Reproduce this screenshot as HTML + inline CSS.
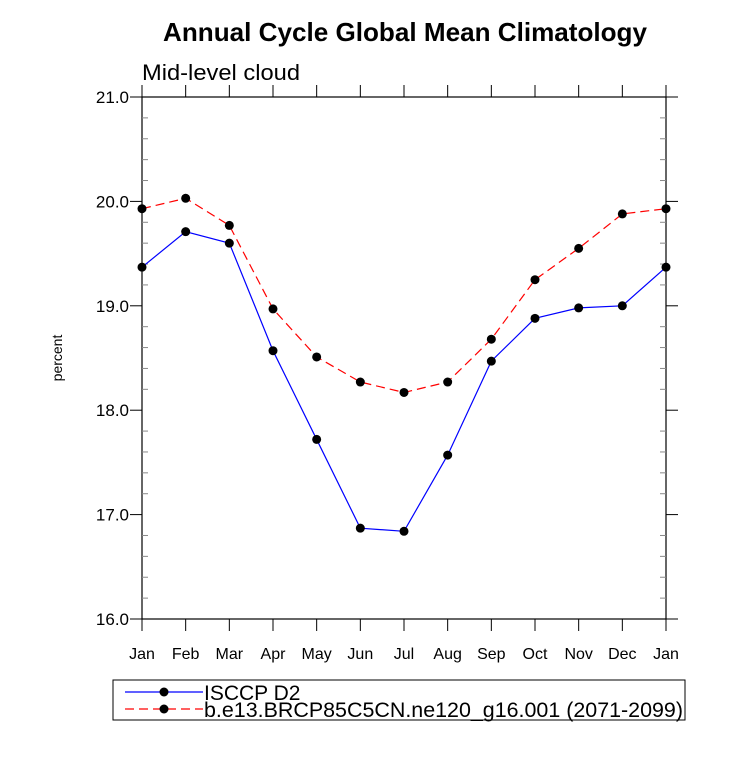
<!DOCTYPE html>
<html><head><meta charset="utf-8"><style>body{margin:0;background:#fff}svg{font-family:"Liberation Sans",sans-serif}</style></head>
<body>
<svg id="c" width="733" height="755">
<text x="405" y="41" text-anchor="middle" font-size="26" font-weight="bold" textLength="484" lengthAdjust="spacingAndGlyphs">Annual Cycle Global Mean Climatology</text>
<text x="142" y="80" font-size="22" textLength="158" lengthAdjust="spacingAndGlyphs">Mid-level cloud</text>
<text transform="translate(62,358) rotate(-90)" text-anchor="middle" font-size="14">percent</text>
<g id="axes"></g><g id="series"></g>
<rect x="113" y="680" width="572" height="40" fill="none" stroke="#000" stroke-width="1"/>
<g>
<line x1="125" y1="692" x2="203" y2="692" stroke="#00f" stroke-width="1.2"/><circle cx="164" cy="692" r="4.5"/>
<text x="204" y="700" font-size="21">ISCCP D2</text></g>
<g>
<line x1="125" y1="709" x2="203" y2="709" stroke="#f00" stroke-width="1.2" stroke-dasharray="9,5"/><circle cx="164" cy="709" r="4.5"/>
<text x="204" y="717" font-size="21" textLength="479" lengthAdjust="spacingAndGlyphs">b.e13.BRCP85C5CN.ne120_g16.001 (2071-2099)</text></g>
</svg>
<script>
const months=["Jan","Feb","Mar","Apr","May","Jun","Jul","Aug","Sep","Oct","Nov","Dec","Jan"];
const isccp=[19.37,19.71,19.60,18.57,17.72,16.87,16.84,17.57,18.47,18.88,18.98,19.00,19.37];
const model=[19.93,20.03,19.77,18.97,18.51,18.27,18.17,18.27,18.68,19.25,19.55,19.88,19.93];
const yTicks=[16,17,18,19,20,21];
const X0=142,X1=666,Y0=619,Y1=97,ymin=16,ymax=21;
const sx=i=>X0+(X1-X0)*i/(months.length-1);
const sy=v=>Y0-(Y0-Y1)*(v-ymin)/(ymax-ymin);
const NS="http://www.w3.org/2000/svg";
function mk(t,a,p){const e=document.createElementNS(NS,t);for(const k in a)e.setAttribute(k,a[k]);p.appendChild(e);return e;}
const ax=document.getElementById('axes');
const fr=mk('rect',{x:X0,y:Y1,width:X1-X0,height:Y0-Y1,fill:'none',stroke:'#000','stroke-width':1.2},ax);


months.forEach((m,i)=>{const x=sx(i);
mk('line',{x1:x,y1:Y0,x2:x,y2:Y0+12,stroke:'#000'},ax);
mk('line',{x1:x,y1:Y1,x2:x,y2:Y1-12,stroke:'#000'},ax);
const t=mk('text',{x:x,y:Y0+40,'text-anchor':'middle','font-size':16},ax);t.textContent=m;

});
yTicks.forEach((v,j)=>{const y=sy(v);
mk('line',{x1:X0-12,y1:y,x2:X0,y2:y,stroke:'#000'},ax);
mk('line',{x1:X1,y1:y,x2:X1+12,y2:y,stroke:'#000'},ax);
const t=mk('text',{x:X0-13,y:y+6,'text-anchor':'end','font-size':17},ax);t.textContent=v.toFixed(1);


if(j<yTicks.length-1)for(let k=1;k<5;k++){const yy=sy(v+k*0.2);
mk('line',{x1:X0,y1:yy,x2:X0+6,y2:yy,stroke:'#888'},ax);
mk('line',{x1:X1-6,y1:yy,x2:X1,y2:yy,stroke:'#888'},ax);}});
const sg=document.getElementById('series');
function draw(d,col,dash,name){
const p=mk('polyline',{points:d.map((v,i)=>sx(i)+','+sy(v)).join(' '),fill:'none',stroke:col,'stroke-width':1.2,'stroke-dasharray':dash},sg);


d.forEach((v,i)=>{const c=mk('circle',{cx:sx(i),cy:sy(v),r:4.5},sg);

});}
draw(model,'#f00','9,5','model');
draw(isccp,'#00f','none','isccp');
</script>
</body></html>
